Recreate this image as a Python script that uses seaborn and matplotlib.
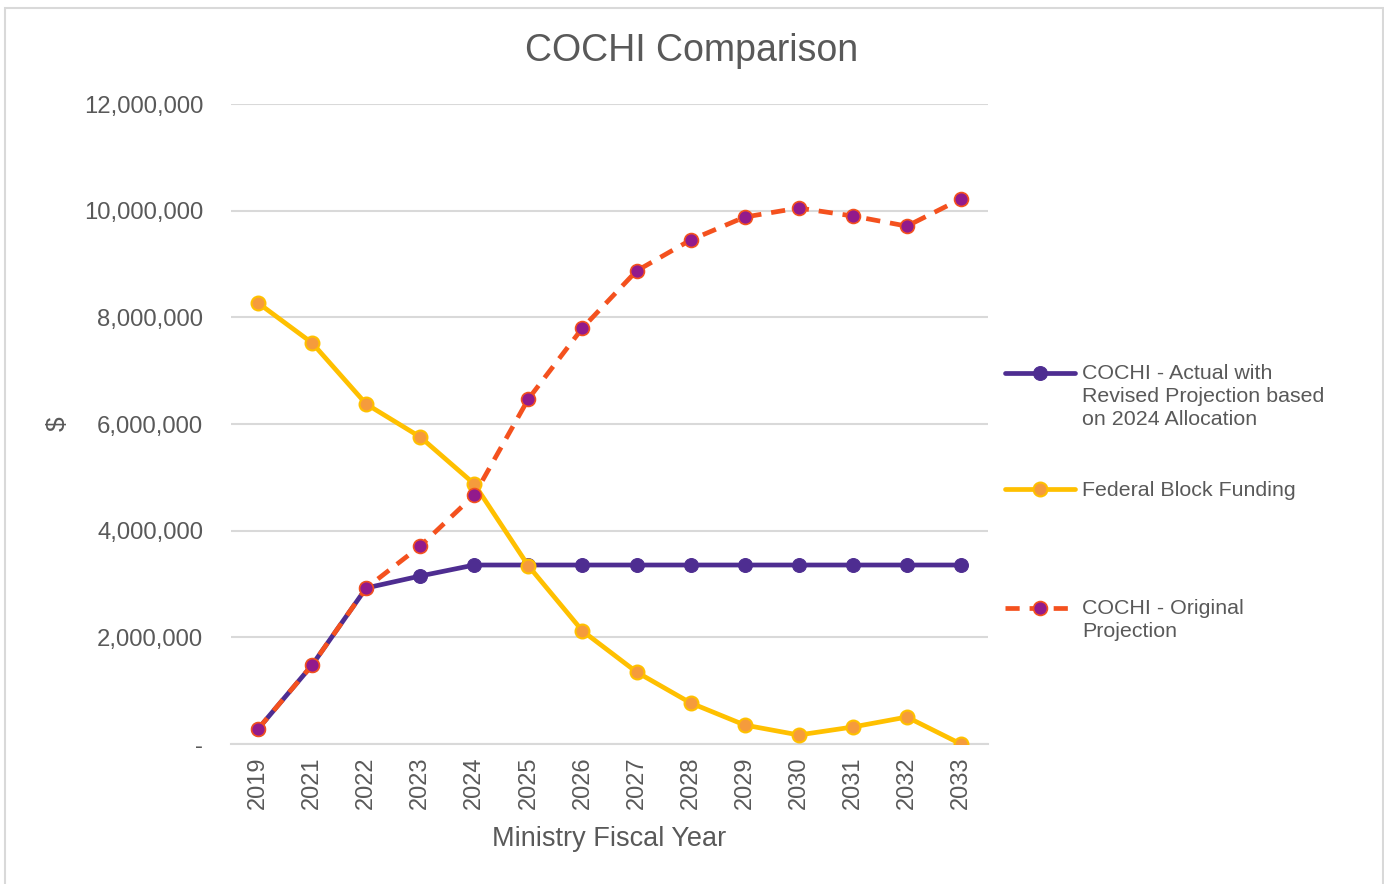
import numpy as np
import pandas as pd
import matplotlib
matplotlib.use("Agg")
import matplotlib.pyplot as plt
import seaborn as sns
from matplotlib.patches import Rectangle
from matplotlib.lines import Line2D
from matplotlib.legend_handler import HandlerLine2D
from matplotlib.ticker import FuncFormatter, FixedLocator

# ---- data ----
years = ["2019", "2021", "2022", "2023", "2024", "2025", "2026",
         "2027", "2028", "2029", "2030", "2031", "2032", "2033"]

cochi_actual = [281000, 1480000, 2925000, 3150000, 3356000, 3356000, 3356000,
                3356000, 3356000, 3356000, 3356000, 3356000, 3356000, 3356000]

federal_block = [8270000, 7520000, 6375000, 5756000, 4875000, 3340000, 2120000,
                 1350000, 770000, 356000, 169000, 319000, 506000, 0]

cochi_original = [281000, 1480000, 2925000, 3710000, 4670000, 6470000, 7800000,
                  8870000, 9450000, 9880000, 10050000, 9900000, 9710000, 10220000]

label_actual = "COCHI - Actual with\nRevised Projection based\non 2024 Allocation"
label_federal = "Federal Block Funding"
label_original = "COCHI - Original\nProjection"

df = pd.DataFrame({
    "year": years,
    "actual": cochi_actual,
    "federal": federal_block,
    "original": cochi_original,
})

W, H = 1384, 884
LEG_FS = 15.4
LINESP = 1.28


class FirstLineHandler(HandlerLine2D):
    """Legend line that sits level with the first line of a multi-line label."""
    def __init__(self, nlines, **kw):
        super().__init__(**kw)
        self.nlines = nlines

    def create_artists(self, legend, orig_handle, xdescent, ydescent,
                       width, height, fontsize, trans):
        arts = super().create_artists(legend, orig_handle, xdescent, ydescent,
                                      width, height, fontsize, trans)
        shift = (self.nlines - 1) / 2 * LINESP * 0.877 * fontsize
        for a in arts:
            if isinstance(a, Line2D):
                a.set_ydata(np.asarray(a.get_ydata(), dtype=float) + shift)
        return arts


# ---- style ----
sns.set_theme(style="white")
plt.rcParams["font.family"] = ["Liberation Sans", "DejaVu Sans"]
txt = "#595959"

fig = plt.figure(figsize=(W / 100, H / 100), dpi=100)
ax = fig.add_axes([231 / W, 1 - 744 / H, (988 - 231) / W, (744 - 104) / H])

sns.lineplot(data=df, x="year", y="actual", ax=ax, color="#4E2D91", linewidth=3.4,
             marker="o", markersize=10, markerfacecolor="#4E2D91",
             markeredgecolor="#4E2D91", zorder=3)
sns.lineplot(data=df, x="year", y="federal", ax=ax, color="#FFC000", linewidth=3.4,
             marker="o", markersize=10, markerfacecolor="#F59B3C",
             markeredgecolor="#FFC000", markeredgewidth=1.5, zorder=4)
sns.lineplot(data=df, x="year", y="original", ax=ax, color="#F4511E", linewidth=3.4,
             marker="o", markersize=10, markerfacecolor="#921A8C",
             markeredgecolor="#F4511E", markeredgewidth=1.2, zorder=5)
line_actual, line_federal, line_original = ax.lines[:3]
line_original.set_dashes([3, 2.1])

ax.set_xlim(-0.5, len(years) - 0.5)
ax.set_ylim(0, 12000000)
ax.set_yticks(np.arange(0, 12000001, 2000000))
ax.yaxis.set_major_formatter(FuncFormatter(lambda v, p: "-" if v == 0 else f"{int(v):,}"))
ax.grid(axis="y", color="#D9D9D9", linewidth=1.5)
ax.grid(axis="x", visible=False)
ax.set_axisbelow(True)

# tick marks between categories, labels at centres
ax.set_xticks(range(len(years)))
ax.set_xticklabels(years, rotation=90)
ax.xaxis.set_minor_locator(FixedLocator(np.arange(-0.5, len(years), 1.0)))
ax.tick_params(axis="x", which="major", length=0, pad=9, labelsize=17, labelcolor=txt)
ax.tick_params(axis="x", which="minor", length=8, width=1.5, color="#D9D9D9", direction="out")
ax.tick_params(axis="y", length=0, pad=20, labelsize=17.2, labelcolor=txt)

for s in ["left", "right", "top"]:
    ax.spines[s].set_visible(False)
ax.spines["bottom"].set_color("#D9D9D9")
ax.spines["bottom"].set_linewidth(1.5)

ax.set_xlabel("Ministry Fiscal Year", fontsize=19.5, color=txt, labelpad=12)
ax.set_ylabel("$", fontsize=19, color=txt, labelpad=10)
fig.suptitle("COCHI Comparison", fontsize=27, color=txt, y=1 - 51 / H, va="center")

# ---- legend: one block per entry, placed like the original ----
entries = [
    (line_actual, label_actual, 364),
    (line_federal, label_federal, 481),
    (line_original, label_original, 599),
]
for line, label, top_px in entries:
    nl = label.count("\n") + 1
    leg = fig.legend([line], [label], loc="upper left",
                     bbox_to_anchor=(1005 / W, 1 - top_px / H),
                     bbox_transform=fig.transFigure, frameon=False,
                     fontsize=LEG_FS, labelcolor=txt, handlelength=3.27,
                     handletextpad=0.33, borderpad=0, borderaxespad=0,
                     handler_map={line: FirstLineHandler(nl)})
    for t in leg.get_texts():
        t.set_linespacing(LINESP)

# chart border
fig.patches.append(Rectangle((5 / W, -0.02), (1383 - 5) / W, 1 - 8 / H + 0.02,
                             transform=fig.transFigure, fill=False,
                             edgecolor="#D9D9D9", linewidth=1.5))

fig.savefig("out.png", dpi=100)
